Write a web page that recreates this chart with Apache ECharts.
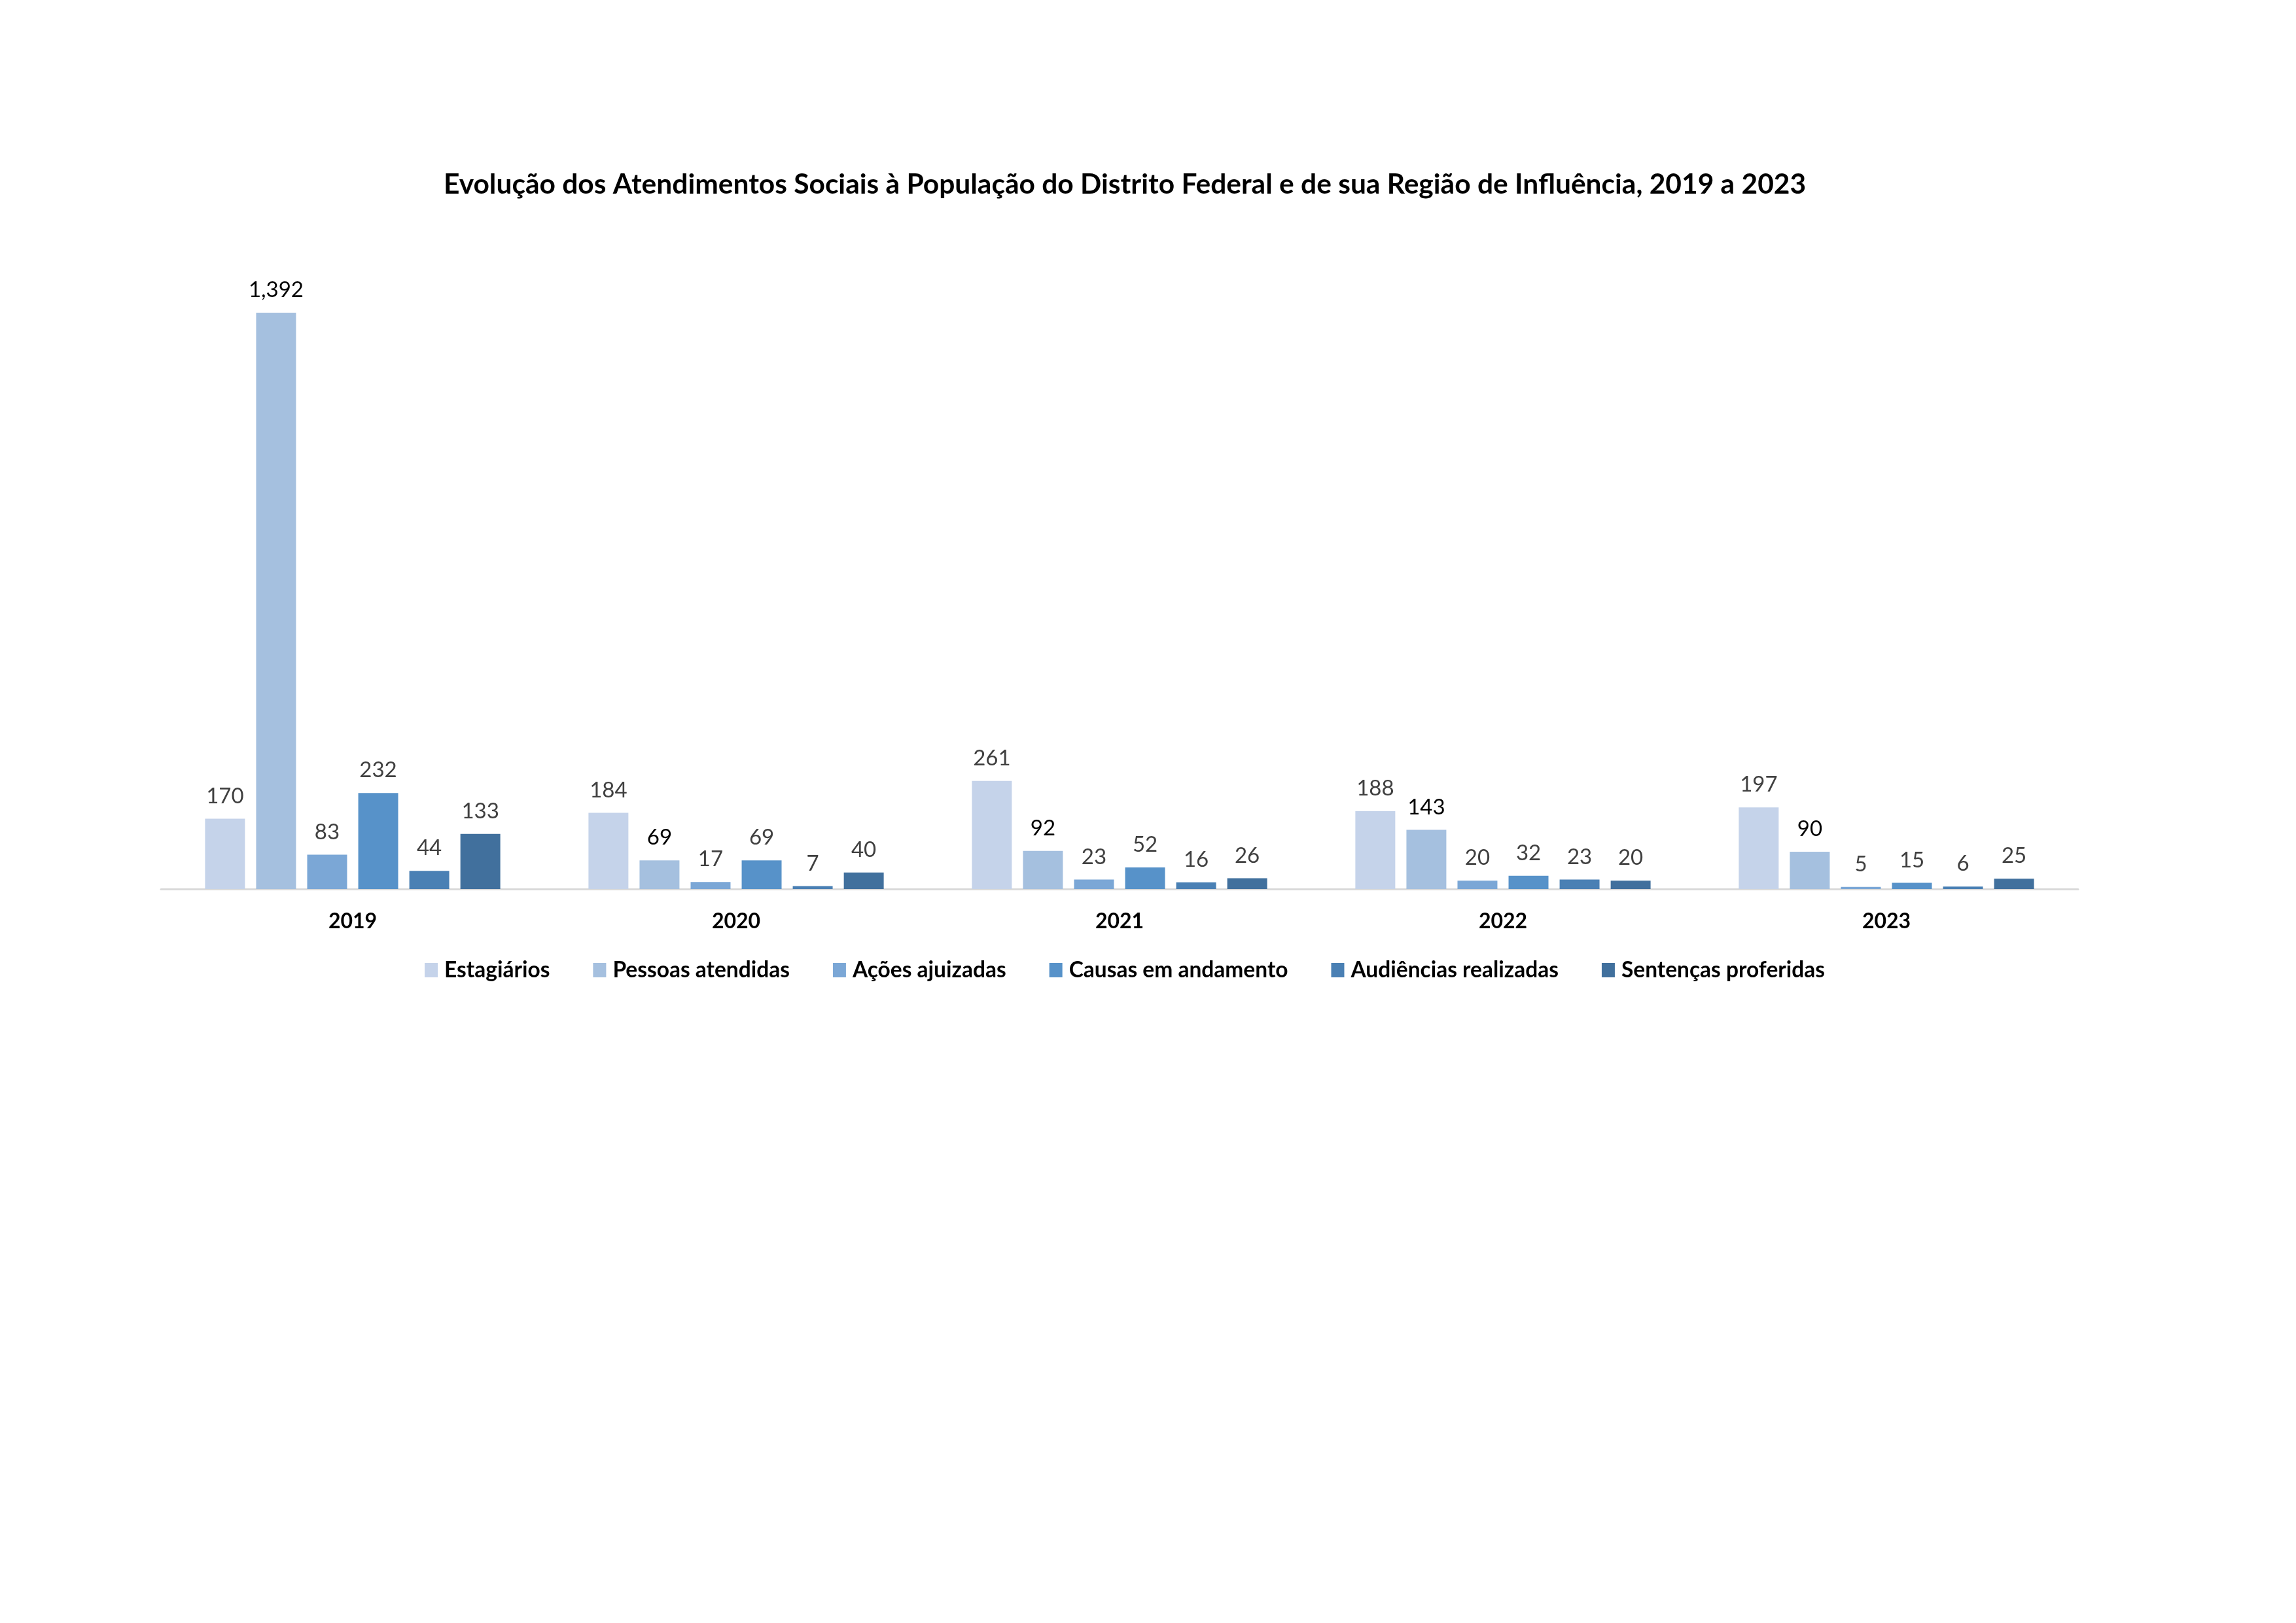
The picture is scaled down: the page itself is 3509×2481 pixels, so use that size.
<!DOCTYPE html>
<html>
<head>
<meta charset="utf-8">
<script src="https://cdn.jsdelivr.net/npm/echarts@6/dist/echarts.min.js"></script>
<style>html,body{margin:0;padding:0;background:#fff}#c{width:3509px;height:2481px}</style>
</head>
<body>
<div id="c"></div>
<script>
const titleText = 'Evolução dos Atendimentos Sociais à População do Distrito Federal e de sua Região de Influência, 2019 a 2023';
const years = ['2019', '2020', '2021', '2022', '2023'];
const seriesNames = ['Estagiários', 'Pessoas atendidas', 'Ações ajuizadas', 'Causas em andamento', 'Audiências realizadas', 'Sentenças proferidas'];
const estagiarios = [170, 184, 261, 188, 197];
const pessoasAtendidas = [1392, 69, 92, 143, 90];
const acoesAjuizadas = [83, 17, 23, 20, 5];
const causasAndamento = [232, 69, 52, 32, 15];
const audienciasRealizadas = [44, 7, 16, 23, 6];
const sentencasProferidas = [133, 40, 26, 20, 25];

const seriesData = [estagiarios, pessoasAtendidas, acoesAjuizadas, causasAndamento, audienciasRealizadas, sentencasProferidas];
const colors = ['#c5d3ea', '#a5c0df', '#7ba7d6', '#5792c9', '#4a80b4', '#41709d'];
const labelColors = ['#404040', '#000000', '#404040', '#404040', '#404040', '#404040'];
const FONT = 'Lato';

const chart = echarts.init(document.getElementById('c'));
chart.setOption({
  backgroundColor: '#ffffff',
  animation: false,
  color: colors,
  title: {
    text: titleText,
    left: 673,
    top: 256,
    textStyle: { fontFamily: FONT, fontSize: 42.5, fontWeight: 'bold', color: '#000' }
  },
  legend: {
    data: seriesNames,
    left: 644,
    top: 1461,
    itemWidth: 20,
    itemHeight: 22,
    itemGap: 66,
    icon: 'rect',
    textStyle: { fontFamily: FONT, fontSize: 33.5, fontWeight: 'bold', color: '#000', padding: [0, 0, 0, 5] }
  },
  grid: { left: 246, right: 333, top: 473, bottom: 1122, containLabel: false },
  xAxis: {
    type: 'category',
    data: years,
    axisLine: { lineStyle: { color: '#d9d9d9', width: 3 } },
    axisTick: { show: false },
    axisLabel: { fontFamily: FONT, fontSize: 32, fontWeight: 'bold', color: '#000', margin: 34 }
  },
  yAxis: {
    type: 'value',
    min: 0,
    max: 1400,
    show: false,
    splitLine: { show: false }
  },
  series: seriesNames.map((name, i) => ({
    name: name,
    type: 'bar',
    data: seriesData[i],
    barGap: '28%',
    barCategoryGap: '23%',
    itemStyle: { color: colors[i] },
    label: {
      show: true,
      position: 'top',
      distance: 18,
      fontFamily: FONT,
      fontSize: 33,
      color: labelColors[i],
      formatter: p => p.value.toLocaleString('en-US')
    }
  }))
});
</script>
</body>
</html>
